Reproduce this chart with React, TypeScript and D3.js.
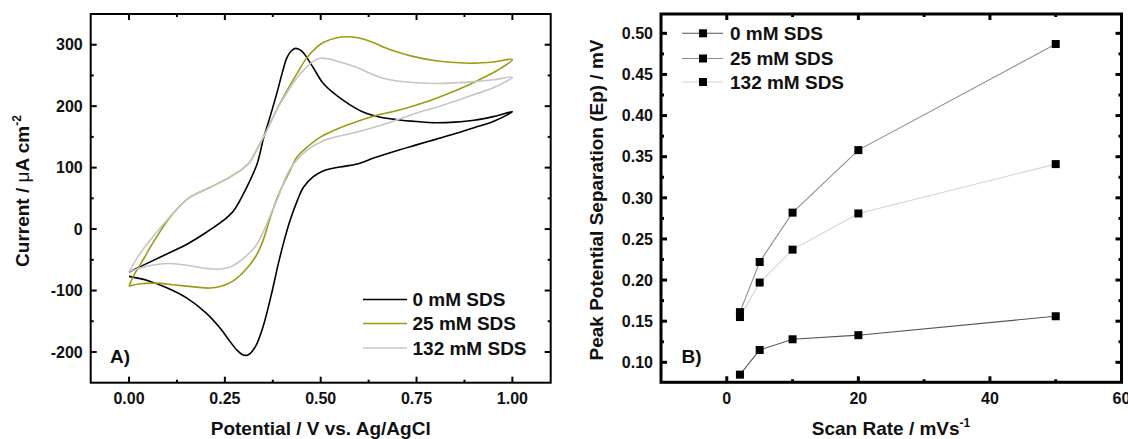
import React from 'react';
import * as d3 from 'd3';

const W = 1128;
const H = 439;
const FONT = '"Liberation Sans", Arial, sans-serif';

// Panel A - cyclic voltammograms, [potential V, current uA cm-2] along the scan (forward then reverse)
const cv0mM: [number, number][] = [
  [0.0, -70], [0.05, -55], [0.1, -40], [0.15, -25], [0.2, -6], [0.246, 14], [0.273, 30],
  [0.307, 68], [0.334, 106], [0.351, 148], [0.368, 183], [0.386, 222], [0.4, 255], [0.412, 279],
  [0.425, 291], [0.435, 294], [0.45, 290], [0.464, 279], [0.485, 258], [0.508, 236], [0.56, 209],
  [0.612, 190], [0.656, 182], [0.7, 178], [0.75, 175], [0.8, 173], [0.85, 174], [0.9, 177],
  [0.95, 183], [1.0, 191],
  [0.95, 175], [0.9, 165], [0.85, 155], [0.8, 146], [0.75, 137], [0.7, 128], [0.64, 116],
  [0.595, 106], [0.55, 101], [0.508, 95], [0.48, 85], [0.455, 68], [0.44, 48], [0.42, 14],
  [0.405, -18], [0.39, -55], [0.37, -110], [0.35, -158], [0.33, -191], [0.31, -205],
  [0.295, -204], [0.28, -196], [0.26, -180], [0.24, -163], [0.2, -136], [0.15, -112],
  [0.1, -96], [0.05, -84], [0.0, -77],
];

const cv25mM: [number, number][] = [
  [0.0, -93], [0.01, -78], [0.03, -57], [0.06, -25], [0.098, 12], [0.13, 36], [0.159, 52],
  [0.212, 68], [0.264, 85], [0.3, 100], [0.316, 110], [0.334, 130], [0.351, 150], [0.368, 172],
  [0.386, 195], [0.4, 212], [0.42, 234], [0.44, 255], [0.464, 279], [0.49, 296], [0.508, 304],
  [0.54, 311], [0.569, 313], [0.6, 311], [0.64, 303], [0.665, 296], [0.7, 288], [0.74, 281],
  [0.8, 274], [0.85, 271], [0.9, 270], [0.95, 272], [1.0, 276],
  [0.96, 258], [0.92, 245], [0.88, 233], [0.83, 220], [0.78, 208], [0.74, 200], [0.7, 193],
  [0.64, 184], [0.595, 175], [0.543, 163], [0.5, 150], [0.464, 133], [0.438, 117], [0.42, 95],
  [0.4, 70], [0.385, 48], [0.368, 18], [0.35, -18], [0.33, -45], [0.3, -69], [0.27, -85],
  [0.24, -93], [0.21, -96], [0.17, -94], [0.12, -91], [0.07, -88], [0.03, -89], [0.0, -93],
];

const cv132mM: [number, number][] = [
  [0.0, -70], [0.02, -48], [0.05, -22], [0.098, 14], [0.13, 36], [0.159, 52], [0.212, 68],
  [0.264, 85], [0.3, 100], [0.316, 110], [0.334, 130], [0.351, 150], [0.368, 172], [0.386, 195],
  [0.4, 210], [0.42, 230], [0.44, 248], [0.464, 264], [0.48, 273], [0.499, 278], [0.52, 277],
  [0.55, 272], [0.595, 263], [0.63, 253], [0.665, 245], [0.7, 241], [0.75, 238], [0.8, 237],
  [0.85, 238], [0.9, 240], [0.95, 243], [1.0, 247],
  [0.95, 230], [0.9, 219], [0.85, 208], [0.8, 198], [0.75, 189], [0.682, 174], [0.595, 158],
  [0.508, 144], [0.46, 126], [0.429, 106], [0.41, 86], [0.39, 53], [0.37, 25], [0.355, 2],
  [0.33, -28], [0.3, -47], [0.27, -60], [0.24, -65], [0.2, -64], [0.15, -59], [0.1, -56],
  [0.05, -60], [0.0, -69],
];

const seriesLabels = ['0 mM SDS', '25 mM SDS', '132 mM SDS'];
const cvColors = ['#000000', '#9c9c12', '#c6c6c6'];

const potentialTicks = [0, 0.25, 0.5, 0.75, 1.0];
const potentialMinor = [0.125, 0.375, 0.625, 0.875];
const currentTicks = [-200, -100, 0, 100, 200, 300];
const currentMinor = [-150, -50, 50, 150, 250];

// Panel B - peak potential separation vs scan rate
const scanRates = [2, 5, 10, 20, 50];
const ep0mM = [0.085, 0.115, 0.128, 0.133, 0.156];
const ep25mM = [0.161, 0.222, 0.282, 0.358, 0.487];
const ep132mM = [0.155, 0.197, 0.237, 0.281, 0.341];
const epColors = ['#555555', '#8e8e8e', '#d2d2d2'];

const rateTicks = [0, 20, 40, 60];
const rateMinor = [10, 30, 50];
const sepTicks = [0.1, 0.15, 0.2, 0.25, 0.3, 0.35, 0.4, 0.45, 0.5];
const sepMinor = [0.125, 0.175, 0.225, 0.275, 0.325, 0.375, 0.425, 0.475];

type Scale = d3.ScaleLinear<number, number>;

function Frame({ x, y, xMajor, xMinor, yMajor, yMinor, sw, fmtX, fmtY }: {
  x: Scale; y: Scale; xMajor: number[]; xMinor: number[]; yMajor: number[]; yMinor: number[];
  sw: number; fmtX: (v: number) => string; fmtY: (v: number) => string;
}) {
  const [l, r] = x.range();
  const [b, t] = y.range();
  const tick = (len: number) => (v: number, i: number) => (
    <g key={`x${len}-${i}`}>
      <line x1={x(v)} x2={x(v)} y1={b} y2={b - len} />
      <line x1={x(v)} x2={x(v)} y1={t} y2={t + len} />
    </g>
  );
  const ytick = (len: number) => (v: number, i: number) => (
    <g key={`y${len}-${i}`}>
      <line x1={l} x2={l + len} y1={y(v)} y2={y(v)} />
      <line x1={r} x2={r - len} y1={y(v)} y2={y(v)} />
    </g>
  );
  return (
    <g>
      <g stroke="#000" strokeWidth={sw}>
        {xMajor.map(tick(6))}
        {xMinor.map(tick(3))}
        {yMajor.map(ytick(6))}
        {yMinor.map(ytick(3))}
      </g>
      <rect x={l} y={t} width={r - l} height={b - t} fill="none" stroke="#000" strokeWidth={sw} />
      <g fontFamily={FONT} fontWeight="bold" fontSize={16} fill="#111">
        {xMajor.map((v, i) => (
          <text key={`lx${i}`} x={x(v)} y={b + 21.5} textAnchor="middle">{fmtX(v)}</text>
        ))}
        {yMajor.map((v, i) => (
          <text key={`ly${i}`} x={l - 8} y={y(v)} dy="0.36em" textAnchor="end">{fmtY(v)}</text>
        ))}
      </g>
    </g>
  );
}

export default function App() {
  // Panel A
  const xA = d3.scaleLinear().domain([-0.1, 1.1]).range([90.7, 550.7]);
  const yA = d3.scaleLinear().domain([-250, 350]).range([382.7, 14]);
  const cvLine = d3.line<[number, number]>()
    .x((d) => xA(d[0]))
    .y((d) => yA(d[1]))
    .curve(d3.curveCatmullRom.alpha(0.5));
  const cvData = [cv0mM, cv25mM, cv132mM];

  // Panel B
  const xB = d3.scaleLinear().domain([-10, 60]).range([661, 1121.5]);
  const yB = d3.scaleLinear().domain([0.0757, 0.5235]).range([382.3, 14]);
  const epLine = d3.line<number>()
    .x((_, i) => xB(scanRates[i]))
    .y((d) => yB(d));
  const epData = [ep0mM, ep25mM, ep132mM];

  const legA = [299.5, 323.5, 348];
  const legB = [33.3, 58.5, 82];
  const titleStyle = { fontFamily: FONT, fontWeight: 'bold' as const, fontSize: 19, fill: '#111' };

  return (
    <svg width={W} height={H} style={{ position: 'absolute', left: 0, top: 0, background: '#fff' }}>
      <rect width={W} height={H} fill="#fff" />

      {/* Panel A */}
      <g>
        {cvData.map((d, i) => (
          <path key={i} d={cvLine(d) ?? ''} fill="none" stroke={cvColors[i]} strokeWidth={1.6}
            strokeLinejoin="round" />
        ))}
        <Frame x={xA} y={yA} xMajor={potentialTicks} xMinor={potentialMinor}
          yMajor={currentTicks} yMinor={currentMinor} sw={2}
          fmtX={d3.format('.2f')} fmtY={(v) => String(v)} />
        {seriesLabels.map((s, i) => (
          <g key={s}>
            <line x1={363} x2={407} y1={legA[i]} y2={legA[i]} stroke={cvColors[i]} strokeWidth={1.6} />
            <text x={412.5} y={legA[i]} dy="0.36em" {...titleStyle}>{s}</text>
          </g>
        ))}
        <text x={110} y={363} {...titleStyle}>A)</text>
        <text x={320.7} y={434.5} textAnchor="middle" {...titleStyle}>Potential / V vs. Ag/AgCl</text>
        <text transform="translate(29,191) rotate(-90)" textAnchor="middle" {...titleStyle}>
          Current / <tspan fontWeight="normal">μ</tspan>A cm<tspan fontSize={12} dy={-8}>-2</tspan>
        </text>
      </g>

      {/* Panel B */}
      <g>
        {epData.map((d, i) => (
          <path key={i} d={epLine(d) ?? ''} fill="none" stroke={epColors[i]} strokeWidth={1.1} />
        ))}
        {epData.map((d, i) => (
          <g key={`m${i}`}>
            {d.map((v, j) => (
              <rect key={j} x={xB(scanRates[j]) - 4} y={yB(v) - 4} width={8} height={8} fill="#000" />
            ))}
          </g>
        ))}
        <Frame x={xB} y={yB} xMajor={rateTicks} xMinor={rateMinor}
          yMajor={sepTicks} yMinor={sepMinor} sw={3}
          fmtX={(v) => String(v)} fmtY={d3.format('.2f')} />
        {seriesLabels.map((s, i) => (
          <g key={s}>
            <line x1={682} x2={723} y1={legB[i]} y2={legB[i]} stroke={epColors[i]} strokeWidth={1.1} />
            <rect x={699} y={legB[i] - 4} width={8} height={8} fill="#000" />
            <text x={730} y={legB[i]} dy="0.36em" {...titleStyle}>{s}</text>
          </g>
        ))}
        <text x={681.5} y={363} {...titleStyle}>B)</text>
        <text x={891} y={435} textAnchor="middle" {...titleStyle}>
          Scan Rate / mVs<tspan fontSize={12} dy={-8}>-1</tspan>
        </text>
        <text transform="translate(603,200) rotate(-90)" textAnchor="middle" {...titleStyle}>
          Peak Potential Separation (Ep) / mV
        </text>
      </g>
    </svg>
  );
}
